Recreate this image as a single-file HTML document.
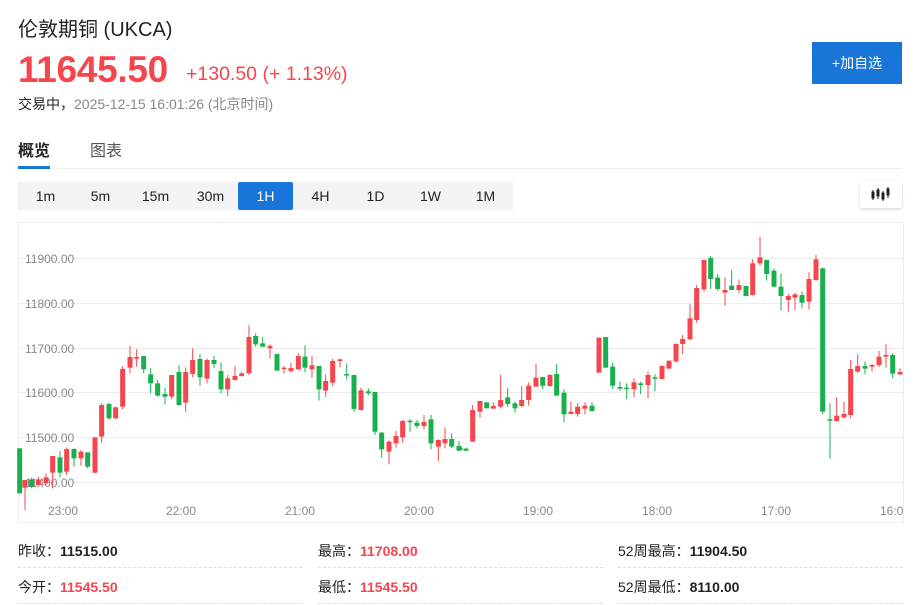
<!DOCTYPE html>
<html><head><meta charset="utf-8">
<style>
*{margin:0;padding:0;box-sizing:border-box}
body{width:919px;height:605px;background:#fff;font-family:"Liberation Sans","Noto Sans CJK SC",sans-serif;position:relative;overflow:hidden;color:#222}
.a{position:absolute;white-space:nowrap}
.tf{position:absolute;top:182px;height:28px;width:55px;text-align:center;line-height:28px;font-size:14px;color:#222;background:#f2f3f5}
.lbl{font-size:14px;color:#222}
.v{font-weight:bold;font-size:14px}
.dash{position:absolute;height:0;border-top:1px dashed #ddd}
</style></head><body>
<div class="a" style="left:18px;top:13px;font-size:20px;color:#222">伦敦期铜&nbsp;(UKCA)</div>
<div class="a" style="left:18px;top:49px;font-size:37px;font-weight:bold;color:#f5464e;letter-spacing:-0.3px">11645.50</div>
<div class="a" style="left:186px;top:63px;font-size:19.5px;color:#f5464e">+130.50 (+ 1.13%)</div>
<div class="a" style="left:18px;top:94px;font-size:14px;color:#222">交易中，<span style="color:#888">2025-12-15 16:01:26 (北京时间)</span></div>
<div class="a" style="left:812px;top:42px;width:90px;height:42px;background:#1976d8;color:#fff;font-size:14px;text-align:center;line-height:42px">+加自选</div>
<div class="a" style="left:18px;top:137px;font-size:16px;font-weight:bold;color:#222">概览</div>
<div class="a" style="left:90px;top:137px;font-size:16px;color:#555">图表</div>
<div class="a" style="left:18px;top:166px;width:32px;height:3px;background:#1976d8"></div>
<div class="a" style="left:50px;top:168px;width:852px;height:1px;background:#eee"></div>
<div class="tf" style="left:18px">1m</div><div class="tf" style="left:73px">5m</div><div class="tf" style="left:128px">15m</div><div class="tf" style="left:183px">30m</div>
<div class="tf" style="left:238px;background:#1976d8;color:#fff;border-radius:2px">1H</div>
<div class="tf" style="left:293px">4H</div><div class="tf" style="left:348px">1D</div><div class="tf" style="left:403px">1W</div><div class="tf" style="left:458px">1M</div>
<div class="a" style="left:860px;top:181px;width:42px;height:27px;background:#fff;border-radius:3px;box-shadow:0 1px 3px rgba(0,0,0,.18)">
<svg width="42" height="27"><g fill="#222" stroke="#222" stroke-width="1"><line x1="13" y1="9" x2="13" y2="19"/><rect x="12" y="11" width="2" height="6"/><line x1="18" y1="7" x2="18" y2="18"/><rect x="17" y="9" width="2" height="6"/><line x1="23" y1="10" x2="23" y2="20"/><rect x="22" y="12" width="2" height="6"/><line x1="28" y1="6" x2="28" y2="17"/><rect x="27" y="8" width="2" height="6"/></g></svg></div>
<svg class="a" style="left:0;top:0" width="919" height="605" id="ch">
<rect x="18.5" y="222.5" width="885" height="300" fill="none" stroke="#eee"/>
<g stroke="#ececec" stroke-width="1">
<line x1="18" y1="258.5" x2="903" y2="258.5"/><line x1="18" y1="303.5" x2="903" y2="303.5"/><line x1="18" y1="348.5" x2="903" y2="348.5"/><line x1="18" y1="392.5" x2="903" y2="392.5"/><line x1="18" y1="437.5" x2="903" y2="437.5"/><line x1="18" y1="482.5" x2="903" y2="482.5"/></g>
<g font-size="12" fill="#888" font-family="Liberation Sans,sans-serif">
<text x="25" y="263">11900.00</text><text x="25" y="308">11800.00</text><text x="25" y="353">11700.00</text><text x="25" y="397">11600.00</text><text x="25" y="442">11500.00</text><text x="25" y="487">11400.00</text>
<text x="48" y="515">23:00</text><text x="166" y="515">22:00</text><text x="285" y="515">21:00</text><text x="404" y="515">20:00</text><text x="523" y="515">19:00</text><text x="642" y="515">18:00</text><text x="761" y="515">17:00</text><text x="880" y="515">16:0</text>
</g>
<g id="cd"></g>
</svg>
<div class="a lbl" style="left:18px;top:541px">昨收：<span class="v">11515.00</span></div>
<div class="a lbl" style="left:318px;top:541px">最高：<span class="v" style="color:#f5464e">11708.00</span></div>
<div class="a lbl" style="left:618px;top:541px">52周最高：<span class="v">11904.50</span></div>
<div class="a lbl" style="left:18px;top:577px">今开：<span class="v" style="color:#f5464e">11545.50</span></div>
<div class="a lbl" style="left:318px;top:577px">最低：<span class="v" style="color:#f5464e">11545.50</span></div>
<div class="a lbl" style="left:618px;top:577px">52周最低：<span class="v">8110.00</span></div>
<div class="dash" style="left:18px;top:567px;width:284px"></div><div class="dash" style="left:318px;top:567px;width:285px"></div><div class="dash" style="left:618px;top:567px;width:285px"></div>
<div class="dash" style="left:18px;top:603px;width:284px"></div><div class="dash" style="left:318px;top:603px;width:285px"></div><div class="dash" style="left:618px;top:603px;width:285px"></div>
<script>
var A=[[14,'G',685,820,685,820],[30,'R',780,803,780,870],[50,'G',778,800,773,805],[70,'R',778,795,770,800],[93,'R',772,790,760,795],[113,'R',708,758,708,805],[135,'G',712,758,693,772],[155,'R',687,755,682,765],[177,'G',687,715,685,740],[198,'R',695,715,690,737],[218,'G',697,740,697,745],[240,'R',652,758,652,760],[260,'R',555,650,550,668],[282,'G',552,595,548,600],[302,'R',562,595,560,597],[323,'R',447,560,438,568],[345,'R',411,443,378,460],[365,'R',411,416,388,440],[386,'G',408,448,408,460],[407,'G',463,490,445,520],[428,'G',490,527,480,530],[450,'G',522,530,503,553],[470,'R',465,530,465,538],[492,'G',456,555,436,558],[512,'R',456,548,442,575],[533,'R',420,462,385,472],[555,'G',417,472,403,497],[576,'R',420,476,415,490],[597,'G',420,432,408,445],[618,'G',453,508,427,520],[638,'R',475,508,465,528],[660,'R',468,480,438,482],[680,'R',460,468,455,470],[702,'R',351,460,316,465],[722,'G',348,373,340,380],[743,'G',370,380,352,382],[765,'R',378,385,373,415],[786,'G',402,452,402,452],[807,'R',443,446,438,460],[828,'R',444,453,428,458],[850,'R',408,448,400,450],[870,'G',410,443,376,457],[891,'R',436,448,408,473],[912,'G',438,508,438,542],[932,'R',483,512,463,530],[953,'R',423,488,417,498],[975,'R',418,423,416,442],[995,'G',462,464,430,478],[1017,'G',465,567,465,575],[1038,'R',511,570,503,572],[1060,'G',514,520,505,525],[1080,'G',516,635,516,645],[1100,'G',638,688,636,712],[1122,'R',665,695,662,733],[1143,'R',648,670,633,683],[1163,'R',603,652,600,668],[1185,'G',602,605,598,635],[1206,'G',608,618,600,625],[1227,'R',606,618,585,628],[1248,'G',598,670,585,688],[1270,'R',660,680,658,723],[1290,'R',657,670,622,685],[1310,'G',657,680,640,685],[1332,'G',678,692,663,693]];
var B=[[0,'G',683,690,683,690],[18,'G',686,692,683,694],[38,'R',570,665,555,665],[60,'R',543,575,543,593],[80,'G',547,565,547,565],[100,'R',558,566,547,566],[122,'R',540,560,465,565],[143,'G',532,552,505,560],[165,'G',550,565,545,578],[185,'R',540,558,498,562],[206,'R',497,540,487,557],[228,'R',473,500,432,500],[248,'G',471,497,471,507],[270,'R',465,498,462,500],[290,'G',462,527,432,527],[312,'G',518,583,508,607],[333,'R',575,582,545,582],[353,'R',560,582,550,590],[375,'R',557,566,547,583],[396,'G',557,573,547,575],[417,'R',353,458,353,458],[437,'G',351,443,351,443],[458,'G',440,497,427,507],[480,'G',501,506,485,512],[500,'G',503,506,490,538],[522,'R',487,508,475,532],[542,'G',490,495,485,522],[564,'R',465,495,455,535],[585,'G',472,475,463,514],[606,'R',438,477,435,478],[627,'R',422,446,422,446],[648,'R',372,424,370,428],[668,'R',357,372,345,402],[690,'R',295,358,253,361],[710,'R',204,300,195,308],[732,'R',120,208,120,215],[752,'G',114,177,108,207],[773,'G',173,207,162,212],[795,'R',210,218,172,257],[815,'G',197,210,150,210],[837,'R',195,210,178,220],[858,'G',198,228,198,228],[878,'R',130,225,118,227],[900,'R',112,130,50,137],[920,'G',120,162,120,182],[942,'G',152,200,145,202],[963,'G',200,228,160,272],[985,'R',228,240,222,275],[1005,'R',223,233,218,270],[1026,'G',225,248,215,265],[1047,'R',177,245,157,268],[1068,'R',118,180,105,183],[1088,'G',145,575,143,582],[1110,'G',598,602,550,716],[1130,'R',587,603,532,605],[1152,'R',582,592,545,595],[1172,'R',447,585,420,595],[1193,'R',438,455,403,458],[1215,'G',438,446,425,463],[1236,'R',435,440,432,455],[1257,'R',410,435,393,441],[1278,'R',405,410,373,442],[1298,'G',405,461,400,475],[1320,'R',456,463,445,465]];
var s='';
function add(c,ox){var x=ox+c[0]/3,col=c[1]=='R'?'#f5464e':'#18b04c';
var t=220+c[2]/3,b=220+c[3]/3,wt=220+c[4]/3,wb=220+c[5]/3;if(b-t<1.5)b=t+1.5;
s+='<line x1="'+x+'" x2="'+x+'" y1="'+wt+'" y2="'+wb+'" stroke="'+col+'" stroke-width="1"/>';
s+='<rect x="'+(x-2.5)+'" y="'+t+'" width="5" height="'+(b-t)+'" fill="'+col+'"/>';}
A.forEach(function(c){add(c,15)});B.forEach(function(c){add(c,460)});
document.getElementById('cd').innerHTML=s;
</script>
</body></html>
